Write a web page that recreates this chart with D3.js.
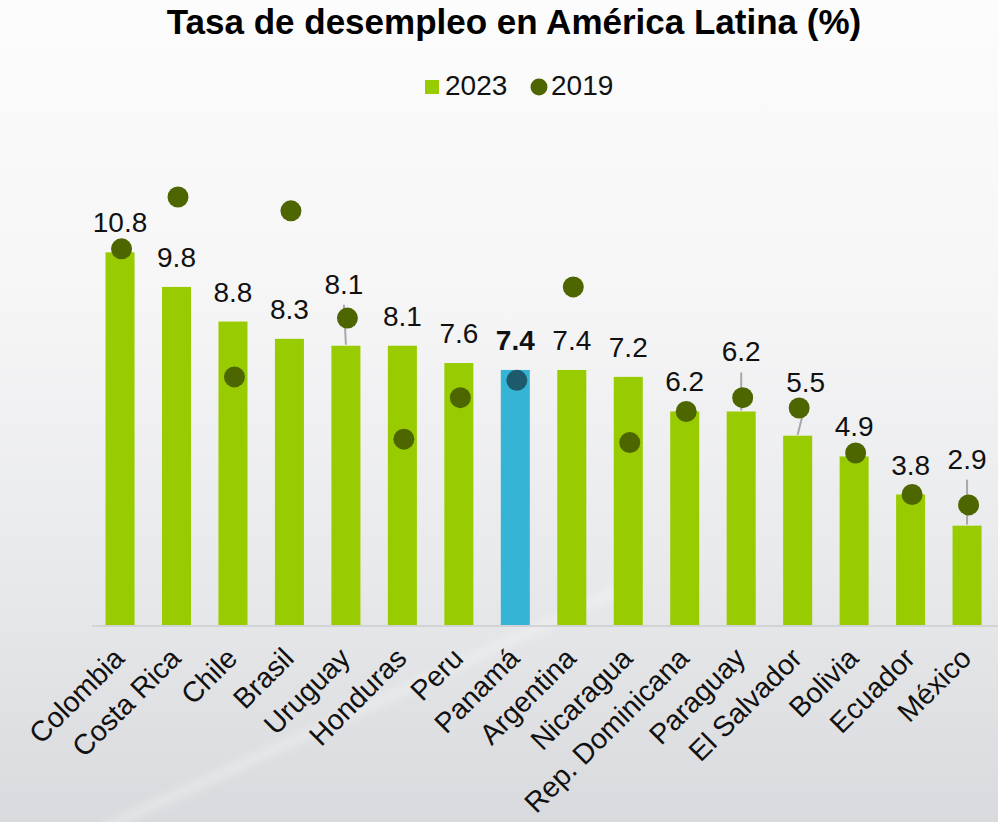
<!DOCTYPE html>
<html>
<head>
<meta charset="utf-8">
<script src="https://cdn.jsdelivr.net/npm/d3@7"></script>
<style>
  html, body { margin: 0; padding: 0; background: #ffffff; }
  svg { display: block; }
  text { font-family: "Liberation Sans", Arial, sans-serif; }
</style>
</head>
<body>
<script>
// ---- Data ----
const countries = ["Colombia", "Costa Rica", "Chile", "Brasil", "Uruguay", "Honduras", "Peru", "Panamá",
  "Argentina", "Nicaragua", "Rep. Dominicana", "Paraguay", "El Salvador", "Bolivia", "Ecuador", "México"];
const values2023 = [10.8, 9.8, 8.8, 8.3, 8.1, 8.1, 7.6, 7.4, 7.4, 7.2, 6.2, 6.2, 5.5, 4.9, 3.8, 2.9];
const values2019 = [10.9, 12.4, 7.2, 12.0, 8.9, 5.4, 6.6, 7.1, 9.8, 5.3, 6.2, 6.6, 6.3, 5.0, 3.8, 3.5];
const seriesNames = ["2023", "2019"];
const highlight = "Panamá";
const titleText = "Tasa de desempleo en América Latina (%)";

// label layout: extra lift (px) for labels moved clear of the 2019 dots, and x shift
const labelLift = [0, 0, 0, 0, 32, 0, 0, 0, 0, 0, 0, 30, 24, 0, 0, 37];
const labelShift = [0, 0, 0, 0, -2, 0, 0, 0, 0, 0, 0, 0, 8, 0, 0, 0];

// ---- Setup ----
const W = 998, H = 822;
const svg = d3.select("body").append("svg").attr("width", W).attr("height", H);

const defs = svg.append("defs");
const bg = defs.append("linearGradient").attr("id", "bg").attr("x1", 0).attr("y1", 0).attr("x2", 0).attr("y2", 1);
bg.append("stop").attr("offset", "0%").attr("stop-color", "#fcfcfc");
bg.append("stop").attr("offset", "35%").attr("stop-color", "#f6f6f7");
bg.append("stop").attr("offset", "70%").attr("stop-color", "#e8e9eb");
bg.append("stop").attr("offset", "100%").attr("stop-color", "#d9dadd");
const streak = defs.append("filter").attr("id", "blur").attr("x", "-20%").attr("y", "-20%").attr("width", "140%").attr("height", "140%");
streak.append("feGaussianBlur").attr("stdDeviation", 5);

svg.append("rect").attr("width", W).attr("height", H).attr("fill", "url(#bg)");
svg.append("line").attr("x1", 100).attr("y1", 830).attr("x2", 620).attr("y2", 590)
  .attr("stroke", "#ffffff").attr("stroke-opacity", 0.35).attr("stroke-width", 8).attr("filter", "url(#blur)");

// ---- Scales ----
const baseY = 626;
const x = d3.scaleBand().domain(countries).range([91.8, 995.3]).paddingInner(0.486).paddingOuter(0.243);
const y = d3.scaleLinear().domain([0, 14]).range([baseY, baseY - 14 * 34.6]);

const g = svg.append("g");

// bars
g.selectAll("rect.bar").data(countries).join("rect")
  .attr("class", "bar")
  .attr("x", d => x(d))
  .attr("width", x.bandwidth())
  .attr("y", (d, i) => y(values2023[i]))
  .attr("height", (d, i) => y(0) - y(values2023[i]))
  .attr("fill", d => d === highlight ? "#35b4d6" : "#99cc00");

// x axis
const xAxis = d3.axisBottom(x).tickSize(0).tickPadding(0);
const ax = g.append("g").attr("transform", `translate(0,${baseY})`).call(xAxis);
ax.select(".domain").attr("d", `M92,0H998`).attr("stroke", "#d2d3d5").attr("stroke-width", 2);
ax.selectAll(".tick text")
  .attr("font-size", 28.5)
  .attr("fill", "#111")
  .attr("text-anchor", "end")
  .attr("dy", null)
  .attr("y", 0)
  .attr("transform", "translate(6,34) rotate(-45)");

// leader lines
countries.forEach((c, i) => {
  if (labelLift[i] > 0) {
    const cx = x(c) + x.bandwidth() / 2;
    const top = y(values2023[i]);
    const labelBase = top - 20 - labelLift[i];
    g.append("line")
      .attr("x1", cx + labelShift[i]).attr("y1", labelBase + 11)
      .attr("x2", cx).attr("y2", top - 1)
      .attr("stroke", "#a8a8a8").attr("stroke-width", 2);
  }
});

// 2019 dots
g.selectAll("circle.dot").data(countries).join("circle")
  .attr("class", "dot")
  .attr("cx", d => x(d) + x.bandwidth() / 2 + 1.5)
  .attr("cy", (d, i) => y(values2019[i]))
  .attr("r", 10.5)
  .attr("fill", d => d === highlight ? "#1d5a6d" : "#4d6600");

// value labels
g.selectAll("text.val").data(countries).join("text")
  .attr("class", "val")
  .attr("x", (d, i) => x(d) + x.bandwidth() / 2 + labelShift[i])
  .attr("y", (d, i) => y(values2023[i]) - 20 - labelLift[i])
  .attr("text-anchor", "middle")
  .attr("font-size", 28)
  .attr("font-weight", d => d === highlight ? "bold" : "normal")
  .attr("fill", "#111")
  .text((d, i) => values2023[i].toFixed(1));

// title
svg.append("text").attr("x", 514).attr("y", 34).attr("text-anchor", "middle")
  .attr("font-size", 35).attr("font-weight", "bold").attr("fill", "#000")
  .text(titleText);

// legend
const lg = svg.append("g");
lg.append("rect").attr("x", 425).attr("y", 80).attr("width", 14).attr("height", 14).attr("fill", "#99cc00");
lg.append("text").attr("x", 445).attr("y", 95).attr("font-size", 28).attr("fill", "#111").text(seriesNames[0]);
lg.append("circle").attr("cx", 539).attr("cy", 87).attr("r", 8.5).attr("fill", "#4d6600");
lg.append("text").attr("x", 551).attr("y", 95).attr("font-size", 28).attr("fill", "#111").text(seriesNames[1]);
</script>
</body>
</html>
